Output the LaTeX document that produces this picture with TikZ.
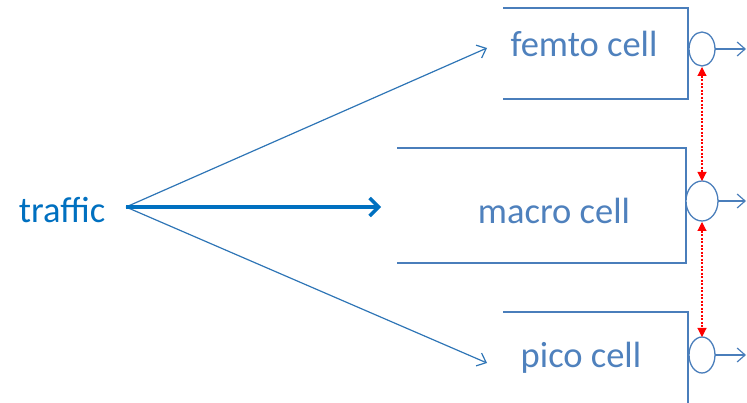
\documentclass[tikz,border=0pt]{standalone}
\usepackage{fontspec}
\setmainfont{Carlito}
\usetikzlibrary{arrows.meta}
\definecolor{lineblue}{RGB}{74,126,187}
\definecolor{textblue}{RGB}{79,129,189}
\definecolor{trafblue}{RGB}{0,112,192}
\definecolor{arrblue}{RGB}{46,117,182}
\tikzset{
  lbl/.style={text=textblue, font=\fontsize{36.5}{38}\selectfont, inner sep=0pt, anchor=center},
  port/.style={draw=lineblue, fill=white, line width=1.3pt},
  flow/.style={draw=arrblue, line width=1.2pt, -{Straight Barb[length=8pt,width=14pt]}},
  outarr/.style={draw=lineblue, line width=1.2pt, -{Straight Barb[length=8pt,width=14pt]}},
  share/.style={draw=red, line width=1.1pt, dash pattern=on 2pt off 1.5pt, {Triangle[length=9pt,width=9pt]}-{Triangle[length=9pt,width=9pt]}},
  boxline/.style={draw=lineblue, line width=1.3pt}
}
\begin{document}
\begin{tikzpicture}[x=1pt,y=-1pt]
\useasboundingbox (0,0) rectangle (747,403);
% boxes (open on left)
\draw[boxline] (503,8) -- (688,8) -- (688,99) -- (503,99);
\draw[boxline] (397,148) -- (686,148) -- (686,263) -- (397,263);
\draw[boxline] (503,312) -- (688,312) -- (688,410) ;
% labels
\node[lbl] (femto) at (584,44) {femto cell};
\node[lbl] (macro) at (554,211) {macro cell};
\node[lbl] (pico) at (581,358) {pico cell};
\node[lbl, text=trafblue] (traffic) at (62,210) {traffic};
% ports
\draw[port] (702,49) ellipse [x radius=13, y radius=17];
\draw[port] (702,201) ellipse [x radius=16, y radius=20];
\draw[port] (702,355) ellipse [x radius=13, y radius=18];
% outputs
\coordinate (fo) at (746,49);
\coordinate (mo) at (746,201);
\coordinate (po) at (746,355);
\coordinate (fi) at (715,49);
\coordinate (mi) at (718,201);
\coordinate (pi) at (715,355);
\draw[outarr] (fi) -- (fo);
\draw[outarr] (mi) -- (mo);
\draw[outarr] (pi) -- (po);
% sharing arrows
\coordinate (s1a) at (702,67);
\coordinate (s1b) at (702,181);
\coordinate (s2a) at (702,222);
\coordinate (s2b) at (702,337);
\draw[share] (s1a) -- (s1b);
\draw[share] (s2a) -- (s2b);
% traffic arrows
\coordinate (src) at (126,207);
\coordinate (tf) at (487,48);
\coordinate (tm) at (381,207);
\coordinate (tp) at (487,363);
\draw[flow] (src) -- (tf);
\draw[flow] (src) -- (tp);
\draw[draw=trafblue, line width=3.5pt, -{Straight Barb[length=9pt,width=18pt]}] (src) -- (tm);
\end{tikzpicture}
\end{document}
